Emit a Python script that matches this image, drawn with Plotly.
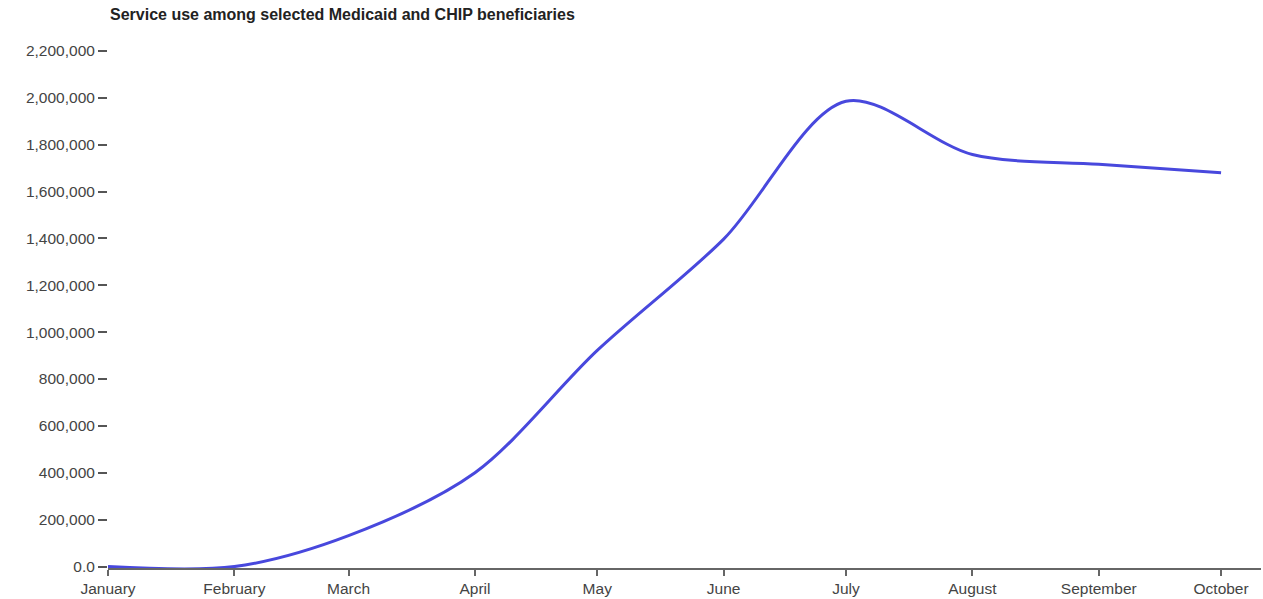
import plotly.graph_objects as go

# Monthly service use counts
months = ["2021-01-01", "2021-02-01", "2021-03-01", "2021-04-01", "2021-05-01",
          "2021-06-01", "2021-07-01", "2021-08-01", "2021-09-01", "2021-10-01"]
month_names = ["January", "February", "March", "April", "May",
               "June", "July", "August", "September", "October"]
service_use = [0, 0, 132000, 400000, 922000, 1397000, 1985000, 1758000, 1716000, 1680000]

y_ticks = [0, 200000, 400000, 600000, 800000, 1000000, 1200000, 1400000,
           1600000, 1800000, 2000000, 2200000]
y_tick_text = ["0.0"] + [f"{v:,}" for v in y_ticks[1:]]

font_family = "Liberation Sans, Arial, sans-serif"

fig = go.Figure(
    go.Scatter(
        x=months,
        y=service_use,
        mode="lines",
        line=dict(color="#4848dd", width=3, shape="spline", smoothing=0.9),
        hoverinfo="x+y",
    )
)

fig.update_layout(
    width=1263,
    height=599,
    margin=dict(l=108, r=2, t=30, b=29),
    paper_bgcolor="white",
    plot_bgcolor="white",
    showlegend=False,
    font=dict(family=font_family, size=15, color="#444"),
    title=dict(
        text="<b>Service use among selected Medicaid and CHIP beneficiaries</b>",
        font=dict(family=font_family, size=16, color="#222"),
        xref="container", yref="container",
        x=110 / 1263, y=1 - 14 / 599,
        xanchor="left", yanchor="middle",
    ),
    xaxis=dict(
        type="date",
        range=["2021-01-01", "2021-10-10 19:00"],
        tickvals=months,
        ticktext=month_names,
        showgrid=False,
        zeroline=False,
        showline=True,
        linecolor="#666",
        linewidth=1.5,
        ticks="outside",
        ticklen=6,
        tickwidth=1.5,
        tickcolor="#666",
        tickfont=dict(size=15.5, color="#444"),
        layer="below traces",
        fixedrange=True,
    ),
    yaxis=dict(
        range=[-6000, 2289000],
        tickvals=y_ticks,
        ticktext=y_tick_text,
        showgrid=False,
        zeroline=False,
        showline=False,
        ticks="outside",
        ticklen=9,
        tickwidth=1.5,
        tickcolor="#555",
        tickfont=dict(size=15.5, color="#444"),
        fixedrange=True,
    ),
)

fig.write_html("out.html")
